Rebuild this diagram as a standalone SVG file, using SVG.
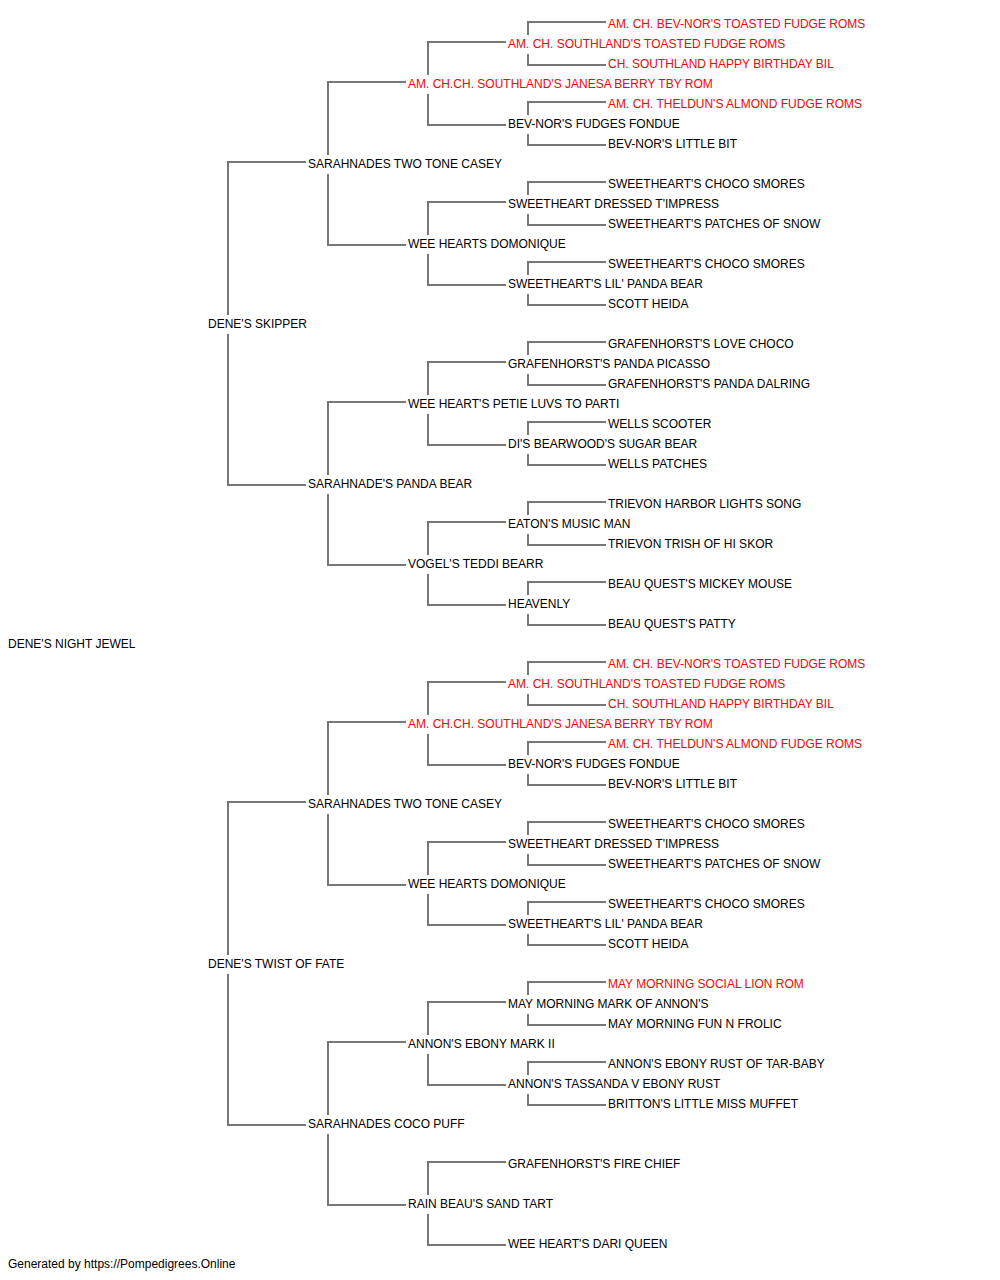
<svg xmlns="http://www.w3.org/2000/svg" width="1000" height="1280" viewBox="0 0 1000 1280">
<style>
text{font-family:"Liberation Sans",Arial,sans-serif;font-size:12px;fill:#000}
.r{fill:#ff0000}
.c path{fill:none;stroke:#777;stroke-width:2}
</style>
<rect width="1000" height="1280" fill="#fff"/>
<g id="connectors" class="c">
<path d="M228 315V162H306M228 334V485H306"/>
<path d="M228 955V802H306M228 974V1125H306"/>
<path d="M328 155V82H406M328 174V245H406"/>
<path d="M328 475V402H406M328 494V565H406"/>
<path d="M328 795V722H406M328 814V885H406"/>
<path d="M328 1115V1042H406M328 1134V1205H406"/>
<path d="M428 75V42H506M428 94V125H506"/>
<path d="M428 235V202H506M428 254V285H506"/>
<path d="M428 395V362H506M428 414V445H506"/>
<path d="M428 555V522H506M428 574V605H506"/>
<path d="M428 715V682H506M428 734V765H506"/>
<path d="M428 875V842H506M428 894V925H506"/>
<path d="M428 1035V1002H506M428 1054V1085H506"/>
<path d="M428 1195V1162H506M428 1214V1245H506"/>
<path d="M528 35V22H606M528 54V65H606"/>
<path d="M528 115V102H606M528 134V145H606"/>
<path d="M528 195V182H606M528 214V225H606"/>
<path d="M528 275V262H606M528 294V305H606"/>
<path d="M528 355V342H606M528 374V385H606"/>
<path d="M528 435V422H606M528 454V465H606"/>
<path d="M528 515V502H606M528 534V545H606"/>
<path d="M528 595V582H606M528 614V625H606"/>
<path d="M528 675V662H606M528 694V705H606"/>
<path d="M528 755V742H606M528 774V785H606"/>
<path d="M528 835V822H606M528 854V865H606"/>
<path d="M528 915V902H606M528 934V945H606"/>
<path d="M528 995V982H606M528 1014V1025H606"/>
<path d="M528 1075V1062H606M528 1094V1105H606"/>
</g>
<g id="n-root"><text x="8" y="648">DENE'S NIGHT JEWEL</text></g>
<g id="n-g1-0"><text x="208" y="328">DENE'S SKIPPER</text></g>
<g id="n-g1-1"><text x="208" y="968">DENE'S TWIST OF FATE</text></g>
<g id="n-g2-0"><text x="308" y="168">SARAHNADES TWO TONE CASEY</text></g>
<g id="n-g2-1"><text x="308" y="488">SARAHNADE'S PANDA BEAR</text></g>
<g id="n-g2-2"><text x="308" y="808">SARAHNADES TWO TONE CASEY</text></g>
<g id="n-g2-3"><text x="308" y="1128">SARAHNADES COCO PUFF</text></g>
<g id="n-g3-0"><text class="r" x="408" y="88">AM. CH.CH. SOUTHLAND'S JANESA BERRY TBY ROM</text></g>
<g id="n-g3-1"><text x="408" y="248">WEE HEARTS DOMONIQUE</text></g>
<g id="n-g3-2"><text x="408" y="408">WEE HEART'S PETIE LUVS TO PARTI</text></g>
<g id="n-g3-3"><text x="408" y="568">VOGEL'S TEDDI BEARR</text></g>
<g id="n-g3-4"><text class="r" x="408" y="728">AM. CH.CH. SOUTHLAND'S JANESA BERRY TBY ROM</text></g>
<g id="n-g3-5"><text x="408" y="888">WEE HEARTS DOMONIQUE</text></g>
<g id="n-g3-6"><text x="408" y="1048">ANNON'S EBONY MARK II</text></g>
<g id="n-g3-7"><text x="408" y="1208">RAIN BEAU'S SAND TART</text></g>
<g id="n-g4-0"><text class="r" x="508" y="48">AM. CH. SOUTHLAND'S TOASTED FUDGE ROMS</text></g>
<g id="n-g4-1"><text x="508" y="128">BEV-NOR'S FUDGES FONDUE</text></g>
<g id="n-g4-2"><text x="508" y="208">SWEETHEART DRESSED T'IMPRESS</text></g>
<g id="n-g4-3"><text x="508" y="288">SWEETHEART'S LIL' PANDA BEAR</text></g>
<g id="n-g4-4"><text x="508" y="368">GRAFENHORST'S PANDA PICASSO</text></g>
<g id="n-g4-5"><text x="508" y="448">DI'S BEARWOOD'S SUGAR BEAR</text></g>
<g id="n-g4-6"><text x="508" y="528">EATON'S MUSIC MAN</text></g>
<g id="n-g4-7"><text x="508" y="608">HEAVENLY</text></g>
<g id="n-g4-8"><text class="r" x="508" y="688">AM. CH. SOUTHLAND'S TOASTED FUDGE ROMS</text></g>
<g id="n-g4-9"><text x="508" y="768">BEV-NOR'S FUDGES FONDUE</text></g>
<g id="n-g4-10"><text x="508" y="848">SWEETHEART DRESSED T'IMPRESS</text></g>
<g id="n-g4-11"><text x="508" y="928">SWEETHEART'S LIL' PANDA BEAR</text></g>
<g id="n-g4-12"><text x="508" y="1008">MAY MORNING MARK OF ANNON'S</text></g>
<g id="n-g4-13"><text x="508" y="1088">ANNON'S TASSANDA V EBONY RUST</text></g>
<g id="n-g4-14"><text x="508" y="1168">GRAFENHORST'S FIRE CHIEF</text></g>
<g id="n-g4-15"><text x="508" y="1248">WEE HEART'S DARI QUEEN</text></g>
<g id="n-g5-0"><text class="r" x="608" y="28">AM. CH. BEV-NOR'S TOASTED FUDGE ROMS</text></g>
<g id="n-g5-1"><text class="r" x="608" y="68">CH. SOUTHLAND HAPPY BIRTHDAY BIL</text></g>
<g id="n-g5-2"><text class="r" x="608" y="108">AM. CH. THELDUN'S ALMOND FUDGE ROMS</text></g>
<g id="n-g5-3"><text x="608" y="148">BEV-NOR'S LITTLE BIT</text></g>
<g id="n-g5-4"><text x="608" y="188">SWEETHEART'S CHOCO SMORES</text></g>
<g id="n-g5-5"><text x="608" y="228">SWEETHEART'S PATCHES OF SNOW</text></g>
<g id="n-g5-6"><text x="608" y="268">SWEETHEART'S CHOCO SMORES</text></g>
<g id="n-g5-7"><text x="608" y="308">SCOTT HEIDA</text></g>
<g id="n-g5-8"><text x="608" y="348">GRAFENHORST'S LOVE CHOCO</text></g>
<g id="n-g5-9"><text x="608" y="388">GRAFENHORST'S PANDA DALRING</text></g>
<g id="n-g5-10"><text x="608" y="428">WELLS SCOOTER</text></g>
<g id="n-g5-11"><text x="608" y="468">WELLS PATCHES</text></g>
<g id="n-g5-12"><text x="608" y="508">TRIEVON HARBOR LIGHTS SONG</text></g>
<g id="n-g5-13"><text x="608" y="548">TRIEVON TRISH OF HI SKOR</text></g>
<g id="n-g5-14"><text x="608" y="588">BEAU QUEST'S MICKEY MOUSE</text></g>
<g id="n-g5-15"><text x="608" y="628">BEAU QUEST'S PATTY</text></g>
<g id="n-g5-16"><text class="r" x="608" y="668">AM. CH. BEV-NOR'S TOASTED FUDGE ROMS</text></g>
<g id="n-g5-17"><text class="r" x="608" y="708">CH. SOUTHLAND HAPPY BIRTHDAY BIL</text></g>
<g id="n-g5-18"><text class="r" x="608" y="748">AM. CH. THELDUN'S ALMOND FUDGE ROMS</text></g>
<g id="n-g5-19"><text x="608" y="788">BEV-NOR'S LITTLE BIT</text></g>
<g id="n-g5-20"><text x="608" y="828">SWEETHEART'S CHOCO SMORES</text></g>
<g id="n-g5-21"><text x="608" y="868">SWEETHEART'S PATCHES OF SNOW</text></g>
<g id="n-g5-22"><text x="608" y="908">SWEETHEART'S CHOCO SMORES</text></g>
<g id="n-g5-23"><text x="608" y="948">SCOTT HEIDA</text></g>
<g id="n-g5-24"><text class="r" x="608" y="988">MAY MORNING SOCIAL LION ROM</text></g>
<g id="n-g5-25"><text x="608" y="1028">MAY MORNING FUN N FROLIC</text></g>
<g id="n-g5-26"><text x="608" y="1068">ANNON'S EBONY RUST OF TAR-BABY</text></g>
<g id="n-g5-27"><text x="608" y="1108">BRITTON'S LITTLE MISS MUFFET</text></g>
<text x="8" y="1268">Generated by https://Pompedigrees.Online</text>
</svg>
